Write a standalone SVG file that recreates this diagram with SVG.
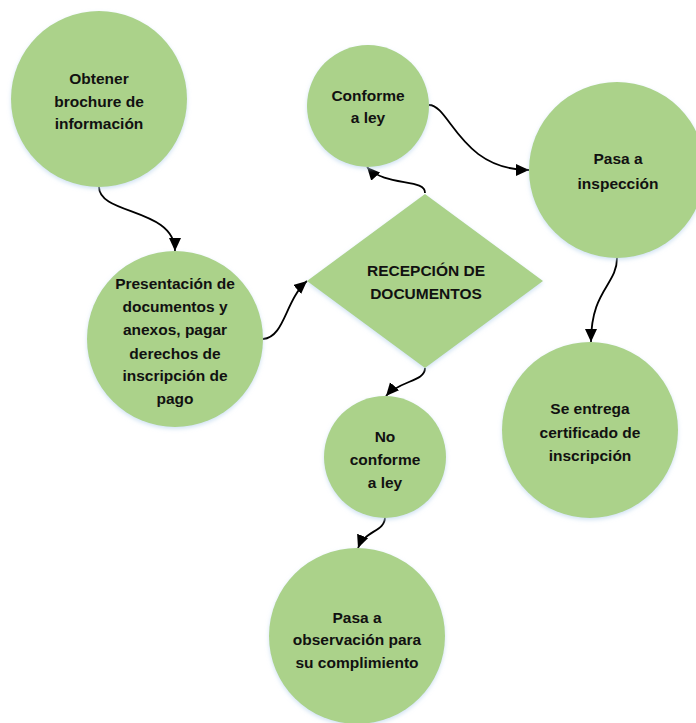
<svg xmlns="http://www.w3.org/2000/svg" width="696" height="723" viewBox="0 0 696 723">
  <style>
    .node { fill: #ABD28A; filter: url(#soft); }
    .label { font-family: "Liberation Sans", Arial, sans-serif; font-weight: bold; font-size: 15.5px; fill: #111; text-anchor: middle; dominant-baseline: central; }
    .link { fill: none; stroke: #000; stroke-width: 1.8; marker-end: url(#tip); }
  </style>
  <defs>
    <filter id="soft" x="-10%" y="-10%" width="120%" height="125%">
      <feDropShadow dx="0" dy="2" stdDeviation="2" flood-color="#BDD7EE" flood-opacity="0.7"/>
    </filter>
    <marker id="tip" markerUnits="userSpaceOnUse" markerWidth="15" markerHeight="13" refX="13" refY="6" orient="auto">
      <path d="M0,0 L13,6 L0,12 z" fill="#000"/>
    </marker>
  </defs>

  <rect width="696" height="723" fill="#fff"/>

  <g id="connectors">
    <path class="link" d="M99,187 C99,215 175,208 175,251"/>
    <path class="link" d="M263,339 C285,337 285,300 307,281"/>
    <path class="link" d="M425,193 C426,178 385,187 367,167"/>
    <path class="link" d="M429,105 C450,105 460,170 529,170"/>
    <path class="link" d="M617,258 C617,285 591,290 591,342"/>
    <path class="link" d="M425,368 C425,382 400,380 386,396"/>
    <path class="link" d="M385,517 C385,532 365,530 358,548"/>
  </g>

  <g id="obtener">
    <circle class="node" cx="99" cy="99" r="88"/>
    <text class="label" x="99" y="78">Obtener</text>
    <text class="label" x="99" y="101">brochure de</text>
    <text class="label" x="99" y="123">información</text>
  </g>

  <g id="presentacion">
    <circle class="node" cx="175" cy="339" r="88"/>
    <text class="label" x="175" y="283">Presentación de</text>
    <text class="label" x="175" y="306">documentos y</text>
    <text class="label" x="175" y="329">anexos, pagar</text>
    <text class="label" x="175" y="353">derechos de</text>
    <text class="label" x="175" y="375">inscripción de</text>
    <text class="label" x="175" y="398">pago</text>
  </g>

  <g id="recepcion">
    <polygon class="node" points="425,194 543,281 425,368 307,281"/>
    <text class="label" x="426" y="270">RECEPCIÓN DE</text>
    <text class="label" x="426" y="293">DOCUMENTOS</text>
  </g>

  <g id="conforme">
    <circle class="node" cx="368" cy="106" r="61"/>
    <text class="label" x="368" y="95">Conforme</text>
    <text class="label" x="368" y="117">a ley</text>
  </g>

  <g id="inspeccion">
    <circle class="node" cx="617" cy="170" r="88"/>
    <text class="label" x="618" y="158">Pasa a</text>
    <text class="label" x="618" y="183">inspección</text>
  </g>

  <g id="certificado">
    <circle class="node" cx="590" cy="430" r="88"/>
    <text class="label" x="590" y="408">Se entrega</text>
    <text class="label" x="590" y="432">certificado de</text>
    <text class="label" x="590" y="455">inscripción</text>
  </g>

  <g id="no-conforme">
    <circle class="node" cx="385" cy="457" r="61"/>
    <text class="label" x="385" y="436">No</text>
    <text class="label" x="385" y="459">conforme</text>
    <text class="label" x="385" y="482">a ley</text>
  </g>

  <g id="observacion">
    <circle class="node" cx="357" cy="636" r="88"/>
    <text class="label" x="357" y="617">Pasa a</text>
    <text class="label" x="357" y="639">observación para</text>
    <text class="label" x="357" y="662">su complimiento</text>
  </g>
</svg>
